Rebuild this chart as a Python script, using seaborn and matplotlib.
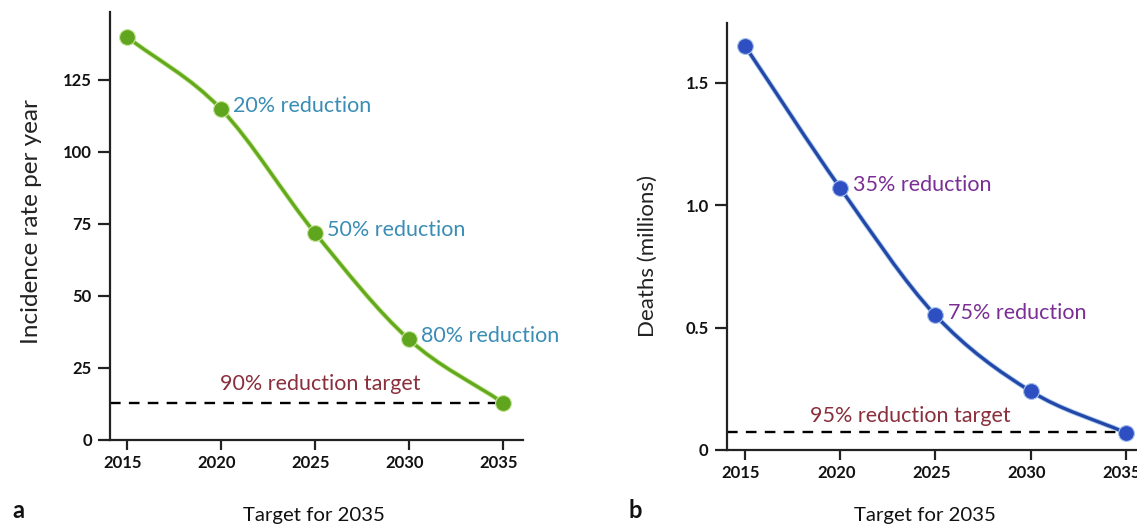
import numpy as np
import pandas as pd
import seaborn as sns
import matplotlib
matplotlib.use("Agg")
import matplotlib.pyplot as plt
from matplotlib.path import Path
from matplotlib.patches import PathPatch
from matplotlib import font_manager
import matplotlib.patheffects as pe
import matplotlib.transforms as mtransforms

# ---- data -------------------------------------------------------------
years = [2015, 2020, 2025, 2030, 2035]
incidence = [140, 115, 72, 35, 13]          # incidence rate per year
incidence_target = 13
incidence_labels = [None, "20% reduction", "50% reduction", "80% reduction", None]
incidence_target_label = "90% reduction target"

deaths = [1.65, 1.07, 0.55, 0.24, 0.07]      # deaths (millions)
deaths_target = 0.075
deaths_labels = [None, "35% reduction", "75% reduction", None, None]
deaths_target_label = "95% reduction target"

x_ticks = [2015, 2020, 2025, 2030, 2035]
inc_ticks = [0, 25, 50, 75, 100, 125]
death_ticks = [0, 0.5, 1.0, 1.5]
death_tick_labels = ["0", "0.5", "1.0", "1.5"]

# ---- style ------------------------------------------------------------
sns.set_theme(style="ticks")
installed = {f.name for f in font_manager.fontManager.ttflist}
text_font = "Lato" if "Lato" in installed else "DejaVu Sans"
tick_font = "Liberation Sans Narrow" if "Liberation Sans Narrow" in installed else text_font
plt.rcParams["font.family"] = [text_font, "DejaVu Sans"]

W, H = 1137, 527
fig = plt.figure(figsize=(W / 100, H / 100), dpi=100)


def px_axes(left, right, top, bottom):
    return fig.add_axes([left / W, 1 - bottom / H, (right - left) / W, (bottom - top) / H])


def smooth_path(x, y):
    """Cubic Bezier path through the points (Catmull-Rom tangents)."""
    x = np.asarray(x, float)
    y = np.asarray(y, float)
    n = len(x)
    m = np.empty(n)
    m[0] = (y[1] - y[0]) / (x[1] - x[0])
    m[-1] = (y[-1] - y[-2]) / (x[-1] - x[-2])
    m[1:-1] = (y[2:] - y[:-2]) / (x[2:] - x[:-2])
    verts = [(x[0], y[0])]
    codes = [Path.MOVETO]
    for i in range(n - 1):
        h = x[i + 1] - x[i]
        verts += [(x[i] + h / 3, y[i] + m[i] * h / 3),
                  (x[i + 1] - h / 3, y[i + 1] - m[i + 1] * h / 3),
                  (x[i + 1], y[i + 1])]
        codes += [Path.CURVE4] * 3
    return Path(verts, codes)


def style_axes(ax):
    sns.despine(ax=ax)
    for s in ("left", "bottom"):
        ax.spines[s].set_linewidth(1.6)
        ax.spines[s].set_color("#222222")
    ax.tick_params(axis="x", direction="out", length=7.5, width=1.6, color="#222222",
                   pad=3.5, labelsize=12)
    ax.tick_params(axis="y", direction="out", length=9, width=1.6, color="#222222",
                   pad=4, labelsize=12)
    shift = mtransforms.ScaledTranslation(-4 / 100, 0, fig.dpi_scale_trans)
    for lab in ax.get_xticklabels():
        lab.set_transform(lab.get_transform() + shift)
    for lab in ax.get_xticklabels() + ax.get_yticklabels():
        lab.set_fontfamily([tick_font, "DejaVu Sans"])
        lab.set_fontweight("bold")
        lab.set_color("#111111")
    ax.set_xlabel("")
    ax.patch.set_alpha(0)


def draw_panel(ax, yvals, target, line_color, marker_color, halo, labels, label_color,
               target_label, target_label_xy, xlim, ylim, yticks, yticklabels, ylabel,
               ylabel_size, ylabel_xy, label_dx):
    ax.set_xlim(*xlim)
    ax.set_ylim(*ylim)
    # target dashed line from the y axis to the final year
    ax.hlines(target, xlim[0], years[-1], colors="black", linestyles=(0, (4.5, 3.5)),
              linewidth=1.7, zorder=2)
    # smooth trend curve
    patch = PathPatch(smooth_path(years, yvals), facecolor="none", edgecolor=line_color,
                      linewidth=2.3, zorder=3, capstyle="round",
                      path_effects=[pe.Stroke(linewidth=3.6, foreground=halo), pe.Normal()])
    ax.add_patch(patch)
    df = pd.DataFrame({"year": years, "value": yvals})
    sns.scatterplot(data=df, x="year", y="value", ax=ax, s=130, color=marker_color,
                    edgecolor=halo, linewidth=0.8, zorder=4, clip_on=False, legend=False)
    for xv, yv, lab in zip(years, yvals, labels):
        if lab:
            ax.annotate(lab, (xv, yv), xytext=(label_dx, 2), textcoords="offset points",
                        ha="left", va="center", fontsize=15.5, color=label_color)
    ax.text(target_label_xy[0], target_label_xy[1], target_label, ha="center",
            va="bottom", fontsize=15.5, color="#8a2f3c")
    ax.set_xticks(x_ticks)
    ax.set_xticklabels([str(t) for t in x_ticks])
    ax.set_yticks(yticks)
    ax.set_yticklabels(yticklabels)
    ax.set_ylabel(ylabel, fontsize=ylabel_size, color="#222222")
    ax.yaxis.set_label_coords(*ylabel_xy)
    style_axes(ax)


# ---- panel a: incidence ----------------------------------------------
ax_a = px_axes(110, 523, 12, 440)
draw_panel(ax_a, incidence, incidence_target, "#62a91c", "#5fa51d", "#c7e59a",
           incidence_labels, "#3a8db5", incidence_target_label, (2025.3, 16),
           (2014.11, 2036.08), (0, 148.6), inc_ticks, [str(t) for t in inc_ticks],
           "Incidence rate per year", 17.5, (-0.165, 0.51), 9)

# ---- panel b: deaths -------------------------------------------------
ax_b = px_axes(726.7, 1145, 22.7, 450)
draw_panel(ax_b, deaths, deaths_target, "#2148a6", "#2d4fc2", "#a9c3ee",
           deaths_labels, "#7b2f95", deaths_target_label, (2023.7, 0.1),
           (2014.04, 2036.0), (0, 1.745), death_ticks, death_tick_labels,
           "Deaths (millions)", 16, (-0.165, 0.455), 9)

# ---- shared captions -------------------------------------------------
for xc, letter, xl in ((314, "a", 12), (925, "b", 628)):
    fig.text(xc / W, 1 - 515 / H, "Target for 2035", ha="center", va="center",
             fontsize=14.7, color="#111111")
    fig.text(xl / W, 1 - 510 / H, letter, ha="left", va="center", fontsize=17,
             fontweight="bold", color="#111111")

fig.savefig("out.png", dpi=100)
